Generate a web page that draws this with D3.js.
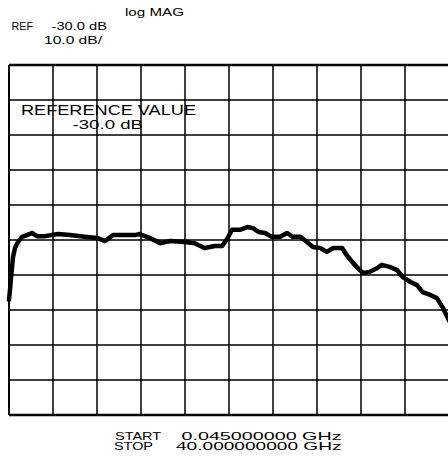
<!DOCTYPE html>
<html>
<head>
<meta charset="utf-8">
<script src="https://cdn.jsdelivr.net/npm/d3@7"></script>
<style>
html,body{margin:0;padding:0;background:#fff;overflow:hidden;}
svg{display:block;}
text{font-family:"Liberation Sans",Arial,Helvetica,sans-serif;fill:#000;}
</style>
</head>
<body>
<svg id="chart" width="448" height="461"></svg>
<script>
// ---- data ----
const startGHz = 0.045;
const stopGHz = 40.0;
const refDb = -30.0;
const dbPerDiv = 10.0;
const divisions = 10;

const freqGHz = [0.045,0.136,0.227,0.317,0.408,0.59,0.862,1.23,1.68,2.13,2.59,3.31,4.49,5.58,6.95,8.04,8.76,9.49,10.1,11.5,11.9,12.8,13.8,14.7,16.0,16.9,17.8,18.75,19.4,19.9,20.3,21.0,21.7,22.2,22.7,23.3,23.9,24.65,25.3,25.8,26.5,27.1,27.65,28.3,28.9,29.5,30.3,30.7,31.3,31.9,32.2,32.8,33.5,33.9,34.6,35.3,35.8,36.5,37.1,37.6,38.3,38.9,39.45,39.9,40.0];
const magDb = [-47.1,-44.3,-40.9,-38.0,-34.9,-32.3,-30.6,-29.1,-28.6,-28.0,-28.9,-28.9,-28.3,-28.6,-29.1,-29.4,-30.3,-28.6,-28.6,-28.6,-28.3,-29.4,-30.9,-30.3,-30.6,-30.9,-32.3,-31.7,-31.7,-29.4,-27.1,-27.1,-26.3,-26.6,-27.7,-28.0,-29.1,-29.1,-28.0,-29.1,-29.1,-30.6,-32.0,-32.3,-33.4,-32.3,-32.3,-34.3,-36.6,-38.6,-39.4,-39.1,-38.0,-37.1,-37.7,-38.6,-40.6,-42.0,-42.9,-44.9,-45.7,-46.6,-49.4,-52.3,-53.0];

const headerTexts = ["log MAG","REF","-30.0 dB","10.0 dB/"];
const refTexts = ["REFERENCE VALUE","-30.0 dB"];
const footerLabels = ["START","STOP"];
const footerValues = ["0.045000000 GHz","40.000000000 GHz"];

// ---- layout ----
const svg = d3.select("#chart");
const L = 9, R = 449, T = 65, B = 415;

const x = d3.scaleLinear().domain([startGHz, stopGHz]).range([L, R]);
const topDb = refDb + dbPerDiv * divisions / 2;
const botDb = refDb - dbPerDiv * divisions / 2;
const y = d3.scaleLinear().domain([botDb, topDb]).range([B, T]);
const xDiv = d3.scaleLinear().domain([0, divisions]).range([L, R]);

// grid
const g = svg.append("g");
g.selectAll("line.v").data(d3.range(0, divisions + 1)).join("line")
  .attr("x1", d => xDiv(d)).attr("x2", d => xDiv(d))
  .attr("y1", T).attr("y2", B)
  .attr("stroke", "#000").attr("stroke-width", d => (d === 0 ? 2 : 1.5));
g.selectAll("line.h").data(d3.range(topDb, botDb - 1, -dbPerDiv)).join("line")
  .attr("x1", L).attr("x2", R)
  .attr("y1", d => y(d)).attr("y2", d => y(d))
  .attr("stroke", "#000").attr("stroke-width", (d, i) => (i === 0 || i === divisions ? 2.5 : 1.5));

// trace
const pts = freqGHz.map((f, i) => [f, magDb[i]]);
svg.append("path")
  .datum(pts)
  .attr("fill", "none")
  .attr("stroke", "#000")
  .attr("stroke-width", 4.5)
  .attr("stroke-linejoin", "round")
  .attr("stroke-linecap", "round")
  .attr("d", d3.line().x(d => x(d[0])).y(d => y(d[1])));

// texts
function txt(s, tx, ty, fs, len) {
  svg.append("text").attr("x", tx).attr("y", ty)
    .attr("font-size", fs)
    .attr("textLength", len).attr("lengthAdjust", "spacingAndGlyphs")
    .text(s);
}
txt(headerTexts[0], 125, 15.5, 10.5, 59);
txt(headerTexts[1], 11.5, 29.5, 10.5, 21.5);
txt(headerTexts[2], 51.5, 29.5, 10.5, 55.5);
txt(headerTexts[3], 44, 43.5, 10.5, 58);

txt(refTexts[0], 21, 114.8, 15, 175);
txt(refTexts[1], 72.5, 129, 12.5, 70.5);

txt(footerLabels[0], 115, 439.5, 10.5, 46);
txt(footerValues[0], 181.5, 439.5, 10.5, 160);
txt(footerLabels[1], 114, 450, 10.5, 39);
txt(footerValues[1], 176, 450, 10.5, 165.5);
</script>
</body>
</html>
